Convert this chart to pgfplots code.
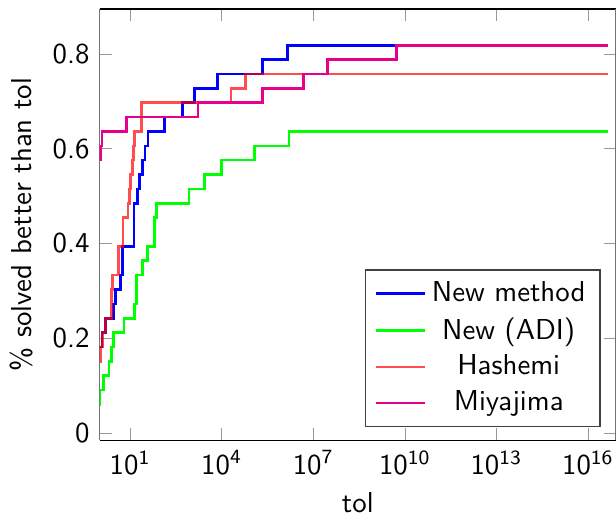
\documentclass[border=0pt]{standalone}
\usepackage{pgfplots}
\pgfplotsset{compat=1.18}
\definecolor{miya}{RGB}{230,0,140}
\begin{document}
\sffamily
\begin{tikzpicture}[font=\sffamily, trim axis right]
\begin{axis}[
  xmode=log,
  scale only axis,
  width=179.1pt, height=149.6pt,
  xmin=1, xmax=8.3e16,
  ymin=-0.015, ymax=0.895,
  xtick={10,1e4,1e7,1e10,1e13,1e16},
  xticklabels={10\textsuperscript{1},10\textsuperscript{4},10\textsuperscript{7},10\textsuperscript{10},10\textsuperscript{13},10\textsuperscript{16}},
  xminorticks=false,
  ytick={0,0.2,0.4,0.6,0.8},
  /pgf/number format/assume math mode=true,
  ticklabel style={font=\sffamily},
  label style={font=\sffamily},
  xlabel={tol},
  xlabel style={yshift=1pt},
  ylabel={\% solved better than tol},
  separate axis lines,
  x axis line style={black},
  y axis line style={black!55},
  tick style={black!40},
  legend pos=south east,
  legend cell align=center,
  legend style={draw=black!75, font=\sffamily},
  every axis plot/.append style={line width=0.9pt, const plot},
]
% New method
\addplot[blue] coordinates {
(1,0.1818) (1.202,0.2121) (1.585,0.2424) (2.884,0.2727) (3.236,0.3030)
(4.898,0.3333) (5.623,0.3939) (13.18,0.4848) (17.38,0.5152) (20.42,0.5455)
(25.12,0.5758) (30.20,0.6061) (38.02,0.6364) (134.9,0.6667) (524.8,0.6970)
(1288,0.7273) (7413,0.7576) (2.188e5,0.7879) (1.445e6,0.8182) (4.571e16,0.8182)
};
\addlegendentry{New method}
% New (ADI)
\addplot[green] coordinates {
(1,0.0606) (1.023,0.0909) (1.349,0.1212) (1.995,0.1515) (2.399,0.1818)
(2.884,0.2121) (6.310,0.2424) (14.13,0.2727) (15.85,0.3333) (25.12,0.3636)
(36.31,0.3939) (63.10,0.4545) (72.44,0.4848) (851.1,0.5152) (2754,0.5455)
(9772,0.5758) (1.202e5,0.6061) (1.622e6,0.6364) (4.571e16,0.6364)
};
\addlegendentry{New (ADI)}
% Hashemi
\addplot[red, opacity=0.7] coordinates {
(1,0.1515) (1.072,0.1818) (1.259,0.2121) (1.585,0.2424) (2.399,0.3030)
(2.692,0.3333) (4.169,0.3939) (5.754,0.4545) (8.511,0.4848) (9.550,0.5152)
(10.47,0.5455) (12.02,0.5758) (12.88,0.6061) (14.13,0.6364) (23.44,0.6970)
(1.995e4,0.7273) (6.026e4,0.7576) (4.571e16,0.7576)
};
\addlegendentry{Hashemi}
% Miyajima
\addplot[miya] coordinates {
(1,0.5758) (1.047,0.6061) (1.202,0.6364) (7.586,0.6667) (1660,0.6970)
(2.188e5,0.7273) (4.677e6,0.7576) (2.951e7,0.7879) (5.370e9,0.8182)
(4.571e16,0.8182)
};
\addlegendentry{Miyajima}
\end{axis}
\path (current axis.north west) ++(0,3.1pt);
\end{tikzpicture}
\end{document}
